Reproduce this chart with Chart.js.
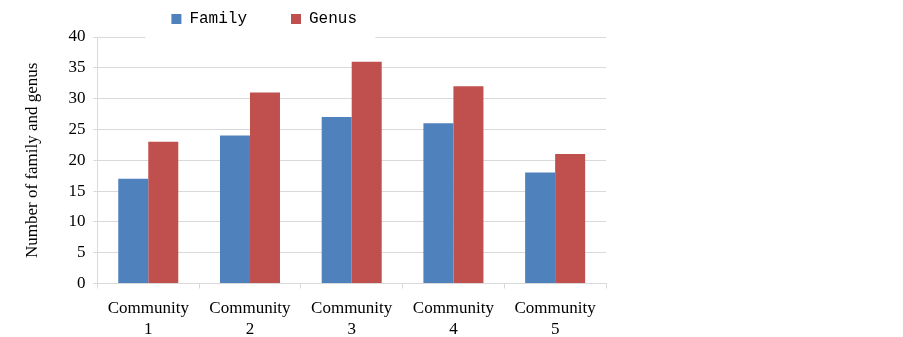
<!DOCTYPE html>
<html>
<head>
<meta charset="utf-8">
<script src="https://cdn.jsdelivr.net/npm/chart.js@4"></script>
<style>
  html, body { margin: 0; padding: 0; background: #fff; }
  #wrap { width: 903px; height: 337px; }
</style>
</head>
<body>
<div id="wrap"><canvas id="bar-chart"></canvas></div>
<script>
const communities = [ [ 'Community', '1' ], [ 'Community', '2' ], [ 'Community', '3' ], [ 'Community', '4' ], [ 'Community', '5' ] ];
const familyCounts = [ 17, 24, 27, 26, 18 ];
const genusCounts = [ 23, 31, 36, 32, 21 ];
const yTicks = [ 0, 5, 10, 15, 20, 25, 30, 35, 40 ];

window.addEventListener( 'load', function () {
    //
    const gridColor = '#d9d9d9';
    const serif = 'Liberation Serif';
    //
    // put the legend where the original has it, over the top gridline
    const legendPlace = {
        id: 'legendPlace',
        afterLayout( chart ) {
            const lg = chart.legend;
            const p = lg.options.labels.padding;
            const dx = chart.chartArea.left + 74 - p - lg.left;
            lg.left += dx; lg.right += dx;
            // only move the top so the clip box still holds the items
            lg.top = 11 - p;
        },
        beforeDatasetsDraw( chart ) {
            const ctx = chart.ctx;
            const a = chart.chartArea;
            ctx.save();
            ctx.fillStyle = '#fff';
            ctx.fillRect( a.left + 48, a.top - 2, 230, 4 );
            ctx.restore();
        }
    };
    //
    const dataBarChart = {
        labels: communities,
        datasets: [
            { label: 'Family', data: familyCounts, backgroundColor: '#4f81bd' },
            { label: 'Genus', data: genusCounts, backgroundColor: '#c0504d' }
        ]
    };
    //
    const optionsBarChart = {
        responsive: true,
        maintainAspectRatio: false,
        animation: false,
        layout: { padding: { top: 5, right: 297, bottom: -12, left: 0 } },
        datasets: { bar: { categoryPercentage: 0.59, barPercentage: 1 } },
        plugins: {
            tooltip: { enabled: false },
            legend: {
                position: 'top',
                align: 'start',
                maxHeight: 32,
                labels: {
                    boxWidth: 10,
                    boxHeight: 10,
                    padding: 44,
                    color: '#000',
                    font: { family: 'Liberation Mono', size: 16 }
                }
            }
        },
        scales: {
            x: {
                grid: { drawOnChartArea: false, tickLength: 5, color: gridColor },
                border: { color: gridColor },
                ticks: {
                    padding: 9,
                    color: '#000',
                    maxRotation: 0,
                    font: { family: serif, size: 17, lineHeight: 1.25 }
                }
            },
            y: {
                min: 0,
                max: 40,
                afterBuildTicks: function ( axis ) {
                    axis.ticks = yTicks.map( v => ( { value: v } ) );
                },
                grid: { color: gridColor, tickLength: 4 },
                border: { color: gridColor },
                ticks: {
                    padding: 8,
                    color: '#000',
                    font: { family: serif, size: 17 }
                },
                title: {
                    display: true,
                    text: 'Number of family and genus',
                    color: '#000',
                    padding: { top: 22, bottom: 18 },
                    font: { family: serif, size: 17, lineHeight: 1.2 }
                }
            }
        }
    };
    //
    new Chart( document.querySelector( '#bar-chart' ), {
        type: 'bar',
        data: dataBarChart,
        options: optionsBarChart,
        plugins: [ legendPlace ]
    });
    //
}, false );
</script>
</body>
</html>
